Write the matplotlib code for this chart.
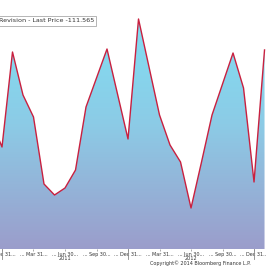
import numpy as np
import matplotlib
matplotlib.use("Agg")
import matplotlib.pyplot as plt
from matplotlib.colors import LinearSegmentedColormap

# monthly points, index 0 = Dec 2010 (index -1 sits just off the left edge)
months = list(range(-1, 26))
values = [-182.6, -208.6, -113.6, -156.6, -178.6, -245.6, -256.6, -249.6,
          -231.6, -168.6, -139.6, -110.6, -155.6, -200.6, -80.6, -128.6,
          -176.6, -206.6, -223.6, -269.6, -223.6, -176.6, -145.6, -114.6,
          -149.6, -243.6, -111.565]

tick_pos = [0, 3, 6, 9, 12, 15, 18, 21, 24]
tick_labels = ["... Dec 31...", "... Mar 31...", "... Jun 30...", "... Sep 30...",
               "... Dec 31...", "... Mar 31...", "... Jun 30...", "... Sep 30...",
               "... Dec 31..."]
year_pos = [6, 18]
year_labels = ["2011", "2012"]
year_breaks = [0, 12, 24]

W, H = 266, 266
fig = plt.figure(figsize=(W / 100, H / 100), dpi=100)
fig.patch.set_facecolor("white")
bottom_px = 249
ax = fig.add_axes([0, (H - bottom_px) / H, 1, bottom_px / H])

ymin, ymax = -61.6 - bottom_px, -61.6
ax.set_xlim(-0.19, 25.14)
ax.set_ylim(ymin, ymax)

# gradient fill under the line
poly = ax.fill_between(months, values, ymin, color="none", lw=0)
cmap = LinearSegmentedColormap.from_list("grad", ["#9b9dcb", "#8ccbe6", "#7ee2f5"])
grad = np.linspace(0, 1, 256).reshape(-1, 1)
img = ax.imshow(grad, cmap=cmap, aspect="auto", origin="lower",
                extent=[-0.19, 25.14, ymin, ymax], zorder=1)
img.set_clip_path(poly.get_paths()[0], transform=ax.transData)

ax.plot(months, values, color="#c9203f", lw=1.0, zorder=3)

for s in ax.spines.values():
    s.set_visible(False)
ax.set_yticks([])
ax.set_xticks(tick_pos)
ax.set_xticklabels(tick_labels, fontsize=3.5, color="#333333")
ax.tick_params(axis="x", length=1.5, width=0.5, pad=0.8, color="#888888")

# year separators and labels
for xb in year_breaks:
    ax.plot([xb, xb], [ymin, ymin - 10], color="#888888", lw=0.6,
            clip_on=False, zorder=4)
for xp, lab in zip(year_pos, year_labels):
    ax.text(xp, ymin - 9.5, lab, fontsize=3.6, color="#333333",
            ha="center", va="center")

ax.text(0.755, -0.057, "Copyright\u00a9 2014 Bloomberg Finance L.P.",
        transform=ax.transAxes, fontsize=3.5, color="#333333",
        ha="center", va="center")

ax.text(-0.005, 1 - 21 / bottom_px, "Revision - Last Price -111.565",
        transform=ax.transAxes, fontsize=4.6, color="#333333",
        ha="left", va="center", zorder=5,
        bbox=dict(boxstyle="square,pad=0.35", fc="white", ec="#aaaaaa", lw=0.6))

fig.savefig("out.png", dpi=100)
